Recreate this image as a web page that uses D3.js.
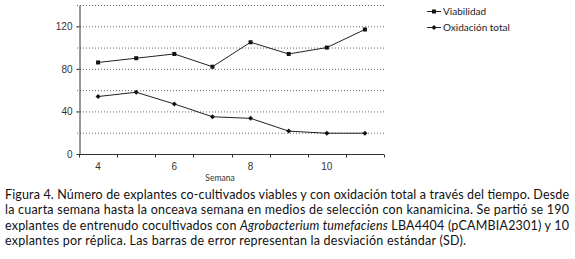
<!DOCTYPE html>
<html><head><meta charset="utf-8">
<script src="https://cdn.jsdelivr.net/npm/d3@7/dist/d3.min.js"></script>
<style>body{margin:0;background:#fff}svg{display:block}</style>
</head><body>
<svg id="c" width="575" height="259"></svg>
<script>
const weeks = [4,5,6,7,8,9,10,11];
const viabilidad = [86,90,94,82,105,94,100,117];
const oxidacion = [54,58,47,35,33.5,21.5,19.5,19.5];
const yTicks = [0,40,80,120];
const gridVals = [20,40,60,80,100,120,140];
const xLabels = [4,6,8,10];
const seriesNames = ["Viabilidad","Oxidación total"];
const captionLines = [
  [["Figura 4. Número de explantes co-cultivados viables y con oxidación total a través del tiempo. Desde",false]],
  [["la cuarta semana hasta la onceava semana en medios de selección con kanamicina. Se partió se 190",false]],
  [["explantes de entrenudo cocultivados con ",false],["Agrobacterium tumefaciens",true],[" LBA4404 (pCAMBIA2301) y 10",false]],
  [["explantes por réplica. Las barras de error representan la desviación estándar (SD).",false]]
];
const captionWidths = [564,564,564,461];

const svg = d3.select("#c");
const x = d3.scaleBand().domain(weeks).range([79,384]);
const y = d3.scaleLinear().domain([0,140]).range([154,5]);
const axFont = "Liberation Sans, Arial, sans-serif";
const capFont = "Lato, 'Open Sans', sans-serif";

// grid
svg.append("g").selectAll("line").data(gridVals).join("line")
  .attr("x1",77).attr("x2",384).attr("y1",d=>y(d)+0.5).attr("y2",d=>y(d)+0.5)
  .attr("stroke","#666").attr("stroke-width",1).attr("stroke-dasharray","1,2");

// y axis
const ya = svg.append("g").attr("transform","translate(79.5,0)")
  .call(d3.axisLeft(y).tickValues(yTicks).tickSize(3).tickSizeOuter(0));
ya.select(".domain").attr("stroke","#333");
ya.selectAll(".tick line").attr("stroke","#333");
ya.selectAll("text").attr("font-family",axFont).attr("font-size",10).attr("fill","#333").attr("dx",-1);

// x axis
const xa = svg.append("g").attr("transform","translate(0,154.5)");
xa.append("line").attr("x1",79).attr("x2",384).attr("stroke","#333");
const bounds = weeks.map(w=>x(w)).concat([x(weeks[weeks.length-1])+x.bandwidth()]);
xa.selectAll("line.t").data(bounds).join("line").attr("class","t")
  .attr("x1",d=>Math.round(d)+0.5).attr("x2",d=>Math.round(d)+0.5).attr("y1",0).attr("y2",3).attr("stroke","#333");
xa.selectAll("text").data(xLabels).join("text")
  .attr("x",d=>x(d)+x.bandwidth()/2).attr("y",15).attr("text-anchor","middle")
  .attr("font-family",axFont).attr("font-size",10).attr("fill","#333").text(d=>d);
svg.append("text").attr("x",220).attr("y",181).attr("text-anchor","middle")
  .attr("font-family",capFont).attr("font-size",8.5).attr("fill","#333").text("Semana");

const line = d3.line().x((d,i)=>x(weeks[i])+x.bandwidth()/2).y(d=>y(d));
[viabilidad,oxidacion].forEach((s,k)=>{
  svg.append("path").datum(s).attr("d",line).attr("fill","none").attr("stroke","#222").attr("stroke-width",1);
  const g = svg.append("g");
  s.forEach((v,i)=>{
    const cx = x(weeks[i])+x.bandwidth()/2, cy = y(v);
    if(k===0) g.append("rect").attr("x",cx-2).attr("y",cy-2).attr("width",4).attr("height",4).attr("fill","#111");
    else g.append("path").attr("d",`M${cx},${cy-2.5}L${cx+2.5},${cy}L${cx},${cy+2.5}L${cx-2.5},${cy}Z`).attr("fill","#111");
  });
});

// legend
seriesNames.forEach((n,k)=>{
  const ly = 11 + k*16;
  svg.append("line").attr("x1",427).attr("x2",441).attr("y1",ly+0.5).attr("y2",ly+0.5).attr("stroke","#222");
  if(k===0) svg.append("rect").attr("x",432).attr("y",ly-1.5).attr("width",4).attr("height",4).attr("fill","#111");
  else svg.append("path").attr("d",`M434,${ly-2}L436.5,${ly+0.5}L434,${ly+3}L431.5,${ly+0.5}Z`).attr("fill","#111");
  svg.append("text").attr("x",443).attr("y",ly+3.5).attr("font-family",capFont).attr("font-size",10).attr("fill","#222").text(n);
});

// caption
captionLines.forEach((ln,i)=>{
  const t = svg.append("text").attr("x",5).attr("y",199+i*15.4)
    .attr("font-family",capFont).attr("font-size",12.5).attr("fill","#111")
    .attr("textLength",captionWidths[i]).attr("lengthAdjust","spacing");
  ln.forEach(([s,it])=>t.append("tspan").attr("font-style",it?"italic":"normal").text(s));
});
</script>
</body></html>
